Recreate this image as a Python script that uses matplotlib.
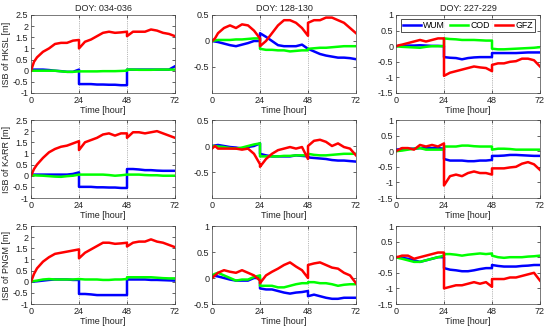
import numpy as np
import matplotlib
matplotlib.use("Agg")
from matplotlib import pyplot as plt

plt.rcParams['font.family'] = ['Liberation Sans', 'DejaVu Sans']
plt.rcParams['font.size'] = 6.5

# time axis (hours), repeated points at 24 and 48 carry the day-boundary jumps
t = [0, 1.5, 3, 6, 9, 12, 15, 18, 21, 24,
     24, 27, 30, 33, 36, 39, 42, 45, 48,
     48, 51, 54, 57, 60, 63, 66, 69, 72]

stations = ["HKSL", "KARR", "PNGM"]
periods = ["034-036", "128-130", "227-229"]
names = ["WUM", "COD", "GFZ"]

# ---- HKSL ----
hksl_034_wum = [0.05, 0.05, 0.05, 0.05, 0.03, 0.0, -0.02, -0.05, -0.05, 0.05,
                -0.6, -0.6, -0.6, -0.62, -0.62, -0.63, -0.63, -0.65, -0.65,
                0.05, 0.05, 0.05, 0.05, 0.05, 0.05, 0.05, 0.05, 0.2]
hksl_034_cod = [0.0, 0.0, 0.0, 0.0, 0.0, 0.0, -0.03, -0.05, -0.05, -0.03,
                -0.03, -0.03, -0.03, -0.03, -0.02, -0.02, -0.02, -0.01, 0.0,
                0.05, 0.05, 0.04, 0.04, 0.04, 0.05, 0.05, 0.05, 0.05]
hksl_034_gfz = [0.0, 0.4, 0.6, 0.85, 1.0, 1.2, 1.25, 1.25, 1.35, 1.38,
                1.0, 1.3, 1.4, 1.55, 1.7, 1.75, 1.7, 1.72, 1.75,
                1.55, 1.75, 1.75, 1.75, 1.85, 1.8, 1.7, 1.65, 1.55]

hksl_128_wum = [0.0, -0.01, -0.02, -0.05, -0.08, -0.1, -0.07, -0.04, 0.0, 0.0,
                0.15, 0.08, 0.0, -0.08, -0.1, -0.1, -0.1, -0.07, -0.15,
                -0.15, -0.2, -0.25, -0.28, -0.3, -0.32, -0.32, -0.33, -0.35]
hksl_128_cod = [0.0, 0.01, 0.02, 0.02, 0.02, 0.03, 0.03, 0.04, 0.05, 0.05,
                -0.15, -0.17, -0.17, -0.18, -0.18, -0.2, -0.19, -0.18, -0.18,
                -0.15, -0.14, -0.13, -0.13, -0.12, -0.11, -0.1, -0.1, -0.1]
hksl_128_gfz = [0.0, 0.05, 0.15, 0.25, 0.3, 0.25, 0.32, 0.3, 0.2, 0.05,
                -0.1, 0.0, 0.15, 0.3, 0.4, 0.4, 0.35, 0.25, 0.1,
                0.35, 0.4, 0.4, 0.45, 0.45, 0.4, 0.35, 0.25, 0.15]

hksl_227_wum = [0.0, 0.01, 0.01, 0.02, 0.02, 0.03, 0.02, 0.01, 0.01, 0.0,
                -0.35, -0.37, -0.38, -0.42, -0.38, -0.36, -0.35, -0.35, -0.35,
                -0.22, -0.22, -0.22, -0.22, -0.22, -0.21, -0.2, -0.2, -0.2]
hksl_227_cod = [0.0, -0.01, -0.02, -0.03, -0.04, -0.05, -0.02, 0.0, 0.0, 0.0,
                0.25, 0.23, 0.22, 0.2, 0.2, 0.2, 0.19, 0.18, 0.18,
                -0.08, -0.1, -0.1, -0.09, -0.08, -0.07, -0.06, -0.05, -0.03]
hksl_227_gfz = [0.0, 0.03, 0.05, 0.1, 0.15, 0.2, 0.15, 0.2, 0.25, 0.25,
                -0.95, -0.85, -0.8, -0.75, -0.7, -0.65, -0.68, -0.7, -0.8,
                -0.6, -0.55, -0.55, -0.5, -0.48, -0.4, -0.4, -0.45, -0.65]

# ---- KARR ----
karr_034_wum = [0.05, 0.05, 0.05, 0.05, 0.05, 0.05, 0.05, 0.05, 0.08, 0.15,
                -0.5, -0.5, -0.5, -0.52, -0.52, -0.53, -0.53, -0.55, -0.55,
                0.3, 0.3, 0.28, 0.25, 0.25, 0.23, 0.22, 0.22, 0.22]
karr_034_cod = [0.02, 0.02, 0.01, 0.0, -0.02, -0.04, -0.05, -0.02, 0.0, 0.05,
                0.05, 0.05, 0.05, 0.05, 0.05, 0.03, 0.0, 0.02, 0.05,
                0.05, 0.05, 0.05, 0.03, 0.02, 0.02, 0.0, 0.0, 0.0]
karr_034_gfz = [0.0, 0.3, 0.5, 0.8, 1.05, 1.2, 1.3, 1.35, 1.45, 1.55,
                1.15, 1.5, 1.6, 1.7, 1.85, 1.9, 1.8, 1.9, 1.9,
                1.7, 1.95, 1.95, 1.9, 1.95, 2.0, 1.9, 1.8, 1.7]

karr_128_wum = [0.0, 0.01, 0.02, 0.0, -0.02, -0.03, -0.05, -0.02, 0.0, 0.05,
                -0.15, -0.18, -0.2, -0.2, -0.2, -0.2, -0.18, -0.19, -0.2,
                -0.22, -0.23, -0.24, -0.25, -0.27, -0.28, -0.28, -0.29, -0.3]
karr_128_cod = [0.0, 0.0, -0.01, -0.02, -0.04, -0.05, -0.03, 0.0, 0.03, 0.05,
                -0.2, -0.2, -0.2, -0.2, -0.19, -0.19, -0.18, -0.18, -0.18,
                -0.15, -0.17, -0.18, -0.18, -0.17, -0.16, -0.15, -0.15, -0.15]
karr_128_gfz = [-0.05, 0.0, -0.05, -0.05, -0.05, -0.05, -0.07, -0.05, -0.15, -0.35,
                -0.4, -0.25, -0.15, -0.08, -0.05, -0.02, -0.05, -0.02, -0.25,
                0.0, 0.1, 0.12, 0.08, 0.0, 0.05, -0.02, -0.05, -0.18]

karr_227_wum = [0.05, 0.06, 0.08, 0.08, 0.08, 0.1, 0.1, 0.1, 0.1, 0.08,
                -0.25, -0.3, -0.3, -0.3, -0.32, -0.32, -0.3, -0.3, -0.28,
                -0.15, -0.15, -0.14, -0.12, -0.12, -0.13, -0.14, -0.15, -0.15]
karr_227_cod = [0.0, 0.01, 0.02, 0.05, 0.08, 0.1, 0.05, 0.05, 0.05, 0.05,
                0.15, 0.15, 0.15, 0.18, 0.18, 0.16, 0.15, 0.15, 0.15,
                0.05, 0.08, 0.08, 0.07, 0.05, 0.05, 0.05, 0.05, 0.05]
karr_227_gfz = [0.0, 0.05, 0.1, 0.1, 0.05, 0.2, 0.15, 0.2, 0.15, 0.25,
                -1.1, -0.8, -0.75, -0.8, -0.7, -0.65, -0.7, -0.7, -0.75,
                -0.55, -0.55, -0.55, -0.52, -0.5, -0.4, -0.35, -0.42, -0.6]

# ---- PNGM ----
pngm_034_wum = [0.0, 0.01, 0.02, 0.05, 0.08, 0.1, 0.1, 0.1, 0.08, 0.08,
                -0.55, -0.55, -0.57, -0.6, -0.6, -0.6, -0.6, -0.6, -0.6,
                0.1, 0.1, 0.1, 0.1, 0.08, 0.08, 0.07, 0.06, 0.05]
pngm_034_cod = [0.0, 0.03, 0.05, 0.1, 0.12, 0.1, 0.1, 0.1, 0.1, 0.12,
                0.12, 0.1, 0.1, 0.1, 0.08, 0.08, 0.1, 0.1, 0.12,
                0.2, 0.2, 0.2, 0.2, 0.2, 0.18, 0.16, 0.15, 0.15]
pngm_034_gfz = [0.0, 0.35, 0.6, 0.9, 1.1, 1.25, 1.3, 1.35, 1.4, 1.45,
                1.05, 1.3, 1.45, 1.6, 1.75, 1.75, 1.7, 1.72, 1.75,
                1.58, 1.75, 1.8, 1.8, 1.9, 1.8, 1.75, 1.65, 1.55]

pngm_128_wum = [0.05, 0.04, 0.03, 0.0, -0.03, -0.05, -0.05, -0.05, 0.0, 0.0,
                -0.2, -0.22, -0.22, -0.25, -0.28, -0.3, -0.28, -0.27, -0.25,
                -0.35, -0.32, -0.35, -0.38, -0.4, -0.4, -0.38, -0.38, -0.38]
pngm_128_cod = [0.05, 0.08, 0.1, 0.05, 0.0, -0.05, -0.03, -0.03, 0.02, 0.05,
                -0.15, -0.15, -0.15, -0.18, -0.18, -0.15, -0.12, -0.1, -0.1,
                -0.08, -0.08, -0.1, -0.1, -0.12, -0.15, -0.13, -0.12, -0.12]
pngm_128_gfz = [0.0, 0.05, 0.1, 0.15, 0.12, 0.1, 0.15, 0.1, 0.05, -0.05,
                -0.1, 0.05, 0.12, 0.18, 0.25, 0.3, 0.22, 0.15, 0.0,
                0.25, 0.28, 0.3, 0.25, 0.2, 0.18, 0.1, 0.05, -0.1]

pngm_227_wum = [0.0, -0.01, -0.02, -0.05, -0.1, -0.15, -0.1, -0.05, 0.0, 0.0,
                -0.35, -0.4, -0.42, -0.45, -0.45, -0.42, -0.38, -0.35, -0.35,
                -0.25, -0.28, -0.3, -0.3, -0.3, -0.28, -0.27, -0.25, -0.25]
pngm_227_cod = [0.0, -0.03, -0.05, -0.1, -0.15, -0.15, -0.1, -0.05, 0.0, 0.05,
                0.1, 0.1, 0.08, 0.05, 0.08, 0.1, 0.12, 0.1, 0.12,
                0.05, 0.0, -0.02, 0.0, 0.0, 0.0, 0.02, 0.03, 0.05]
pngm_227_gfz = [0.0, 0.02, 0.05, 0.05, -0.05, 0.0, 0.05, 0.1, 0.15, 0.15,
                -1.0, -0.95, -0.9, -0.9, -0.85, -0.8, -0.85, -0.8, -0.95,
                -0.7, -0.7, -0.7, -0.65, -0.65, -0.6, -0.55, -0.5, -0.75]

data = [
    [(hksl_034_wum, hksl_034_cod, hksl_034_gfz),
     (hksl_128_wum, hksl_128_cod, hksl_128_gfz),
     (hksl_227_wum, hksl_227_cod, hksl_227_gfz)],
    [(karr_034_wum, karr_034_cod, karr_034_gfz),
     (karr_128_wum, karr_128_cod, karr_128_gfz),
     (karr_227_wum, karr_227_cod, karr_227_gfz)],
    [(pngm_034_wum, pngm_034_cod, pngm_034_gfz),
     (pngm_128_wum, pngm_128_cod, pngm_128_gfz),
     (pngm_227_wum, pngm_227_cod, pngm_227_gfz)],
]

colors = ["#0000ff", "#00ff00", "#ff0000"]

# y-limits and ticks per panel
ylims = [[(-1, 2.5), (-1, 0.5), (-1.5, 1)],
         [(-1, 2.5), (-1, 0.5), (-1.5, 1)],
         [(-1, 2.5), (-0.5, 1), (-1.5, 1)]]
yticks = [[np.arange(-1, 2.51, 0.5), [-0.5, 0, 0.5], np.arange(-1.5, 1.01, 0.5)],
          [np.arange(-1, 2.51, 0.5), [-0.5, 0, 0.5], np.arange(-1.5, 1.01, 0.5)],
          [np.arange(-1, 2.51, 0.5), [-0.5, 0, 0.5, 1], np.arange(-1.5, 1.01, 0.5)]]

fig = plt.figure(figsize=(5.5, 3.27), dpi=100)
W, H = 550.0, 327.0
lefts = [31, 212, 396]
tops = [15, 120, 226]
aw, ah = 144, 78

for r in range(3):
    for c in range(3):
        ax = fig.add_axes([lefts[c] / W, 1 - (tops[r] + ah) / H, aw / W, ah / H])
        for k in range(3):
            ax.plot(t, data[r][c][k], color=colors[k], lw=1.8, label=names[k])
        ax.set_xlim(0, 72)
        ax.set_ylim(*ylims[r][c])
        ax.set_xticks([0, 24, 48, 72])
        ax.set_yticks(yticks[r][c])
        ax.yaxis.set_major_formatter(matplotlib.ticker.FormatStrFormatter('%g'))
        for xv in (24, 48):
            ax.axvline(xv, color='#777777', lw=0.5, ls=':', zorder=0)
        ax.tick_params(direction='in', length=2, width=0.5, labelsize=6.5,
                       pad=2, colors='#222222', top=True, right=True,
                       labeltop=False, labelright=False)
        for s in ax.spines.values():
            s.set_linewidth(0.5)
            s.set_color('#444444')
        ax.set_xlabel("Time [hour]", fontsize=6.5, labelpad=1, color='#222222')
        if c == 0:
            ax.set_ylabel("ISB of " + stations[r] + " [m]", fontsize=6.5,
                          labelpad=1.5, color='#222222')
        if r == 0:
            ax.set_title("DOY: " + periods[c], fontsize=6.5, pad=3, color='#222222')
        if r == 0 and c == 2:
            leg = ax.legend(loc='upper center', ncol=3, fontsize=6.3,
                            frameon=True, fancybox=False, handlelength=2.0,
                            handletextpad=0.3, columnspacing=0.6,
                            borderpad=0.2, borderaxespad=0.3,
                            bbox_to_anchor=(0.5, 0.98))
            leg.get_frame().set_edgecolor('black')
            leg.get_frame().set_linewidth(0.6)

plt.savefig("out.png", dpi=100)
